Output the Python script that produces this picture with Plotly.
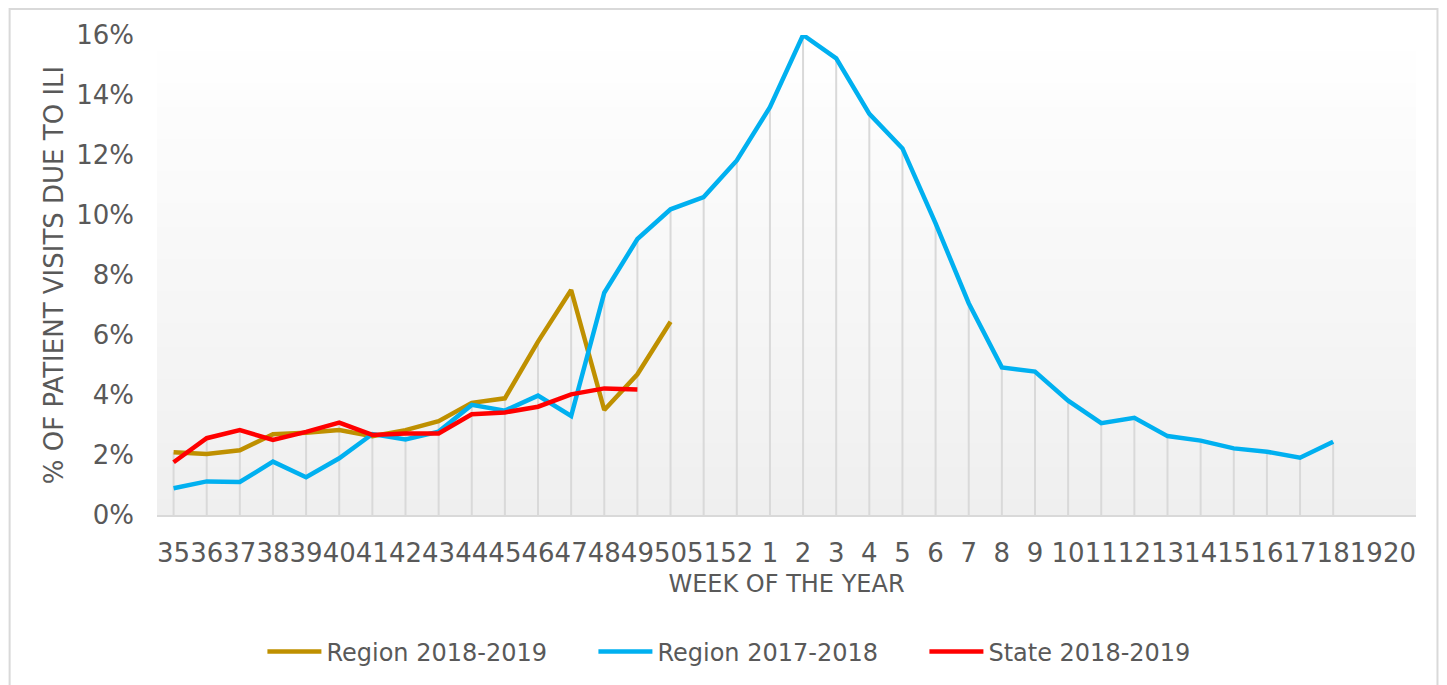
import plotly.graph_objects as go

weeks = ["35", "36", "37", "38", "39", "40", "41", "42", "43", "44", "45", "46",
         "47", "48", "49", "50", "51", "52", "1", "2", "3", "4", "5", "6", "7",
         "8", "9", "10", "11", "12", "13", "14", "15", "16", "17", "18", "19", "20"]

region_2018_2019 = [2.09, 2.03, 2.16, 2.69, 2.74, 2.83, 2.63, 2.83, 3.13, 3.74,
                    3.89, 5.78, 7.50, 3.50, 4.69, 6.44]

region_2017_2018 = [0.89, 1.12, 1.10, 1.78, 1.26, 1.89, 2.70, 2.52, 2.78, 3.67,
                    3.48, 3.98, 3.30, 7.41, 9.20, 10.19, 10.60, 11.82, 13.59, 16.00,
                    15.22, 13.37, 12.22, 9.72, 7.06, 4.92, 4.78, 3.81, 3.06, 3.24,
                    2.63, 2.48, 2.22, 2.11, 1.91, 2.44]

state_2018_2019 = [1.76, 2.56, 2.83, 2.50, 2.77, 3.08, 2.67, 2.72, 2.72, 3.36,
                   3.42, 3.61, 4.02, 4.22, 4.18]

y_ticks = [0, 2, 4, 6, 8, 10, 12, 14, 16]

series = [
    ("Region 2018-2019", region_2018_2019, "#BF9000"),
    ("Region 2017-2018", region_2017_2018, "#00B0F0"),
    ("State 2018-2019", state_2018_2019, "#FF0000"),
]

FONT = "DejaVu Sans, Verdana, sans-serif"
TXT = "#595959"

# plot area geometry (figure pixels)
L, T, PW, PH = 148.5, 27, 1260, 480
W, H = 1447, 685

fig = go.Figure()

# drop lines from the highest point of each category down to the axis
drop_x, drop_y = [], []
for i, w in enumerate(weeks):
    vals = [s[1][i] for s in series if i < len(s[1]) and s[1][i] is not None]
    if vals:
        drop_x += [w, w, None]
        drop_y += [0, max(vals), None]
fig.add_trace(go.Scatter(x=drop_x, y=drop_y, mode="lines",
                         line=dict(color="#d9d9d9", width=2),
                         showlegend=False, hoverinfo="skip"))

for name, vals, color in series:
    fig.add_trace(go.Scatter(x=weeks[:len(vals)], y=vals, mode="lines", name=name,
                             line=dict(color=color, width=4.5)))

# gradient background of plot area
shapes = []
n = 60
for k in range(n):
    t = (k + 0.5) / n  # 0 bottom -> 1 top
    c = int(round(239 + (255 - 239) * t))
    shapes.append(dict(type="rect", xref="paper", yref="paper",
                       x0=0, x1=1, y0=k / n, y1=(k + 1) / n,
                       fillcolor=f"rgb({c},{c},{c})", line=dict(width=0),
                       layer="below"))
# chart frame (figure px -> paper coords)
fx0, fx1, fy0, fy1 = 1, 1430, 1, 700
shapes.append(dict(type="rect", xref="paper", yref="paper",
                   x0=(fx0 - L) / PW, x1=(fx1 - L) / PW,
                   y0=(T + PH - fy1) / PH, y1=(T + PH - fy0) / PH,
                   line=dict(color="#d9d9d9", width=2), fillcolor="rgba(0,0,0,0)",
                   layer="below"))

fig.update_layout(
    width=W, height=H,
    margin=dict(l=L, r=W - L - PW, t=T, b=H - T - PH, autoexpand=False),
    paper_bgcolor="white", plot_bgcolor="rgba(0,0,0,0)",
    font=dict(family=FONT, size=24, color=TXT),
    shapes=shapes,
    showlegend=True,
    legend=dict(orientation="h", x=(254 - L) / PW, xanchor="left",
                y=(T + PH - 644) / PH, yanchor="middle",
                font=dict(size=24, color=TXT, family=FONT),
                bgcolor="rgba(0,0,0,0)", itemwidth=54,
                entrywidth=262, entrywidthmode="pixels",
                traceorder="normal"),
    xaxis=dict(type="category", categoryorder="array", categoryarray=weeks,
               range=[-0.5, len(weeks) - 0.5], automargin=False,
               tickvals=weeks, ticktext=weeks, tickangle=0,
               showgrid=False, zeroline=False,
               showline=True, linecolor="#d9d9d9", linewidth=2,
               ticks="", ticklabelstandoff=14,
               tickfont=dict(size=26, color=TXT, family=FONT),
               title=dict(text="WEEK OF THE YEAR", standoff=8,
                          font=dict(size=24, color=TXT, family=FONT))),
    yaxis=dict(range=[0, 16], tickvals=y_ticks, automargin=False,
               ticktext=[f"{v}%" for v in y_ticks],
               showgrid=False, zeroline=False, showline=False, ticks="",
               ticklabelstandoff=22,
               tickfont=dict(size=26, color=TXT, family=FONT),
               title=dict(text="% OF PATIENT VISITS DUE TO ILI", standoff=5,
                          font=dict(size=26, color=TXT, family=FONT))),
)

fig.write_html("out.html")
